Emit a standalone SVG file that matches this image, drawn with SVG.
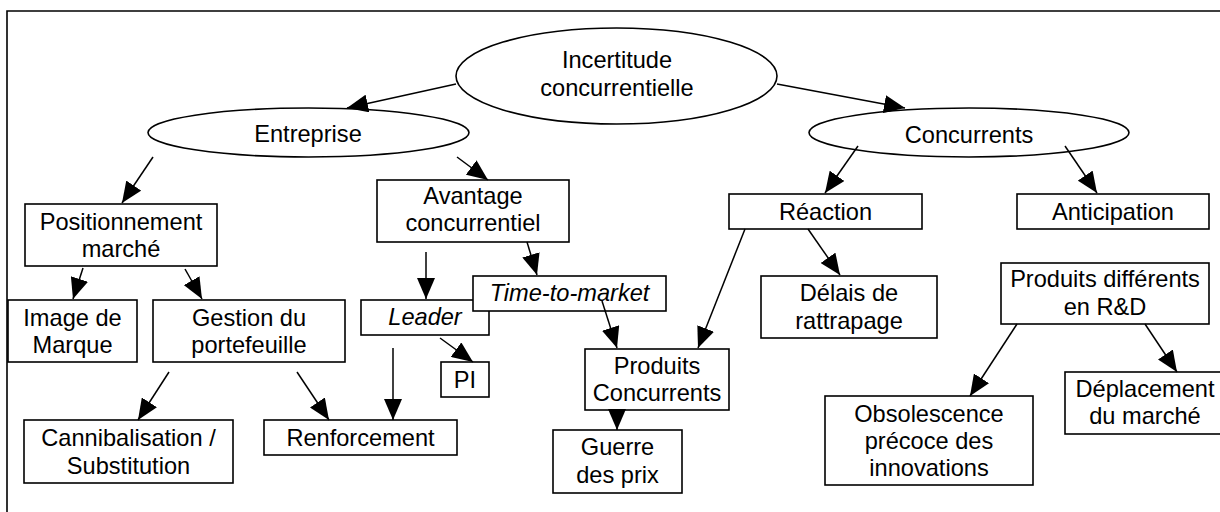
<svg xmlns="http://www.w3.org/2000/svg" width="1220" height="512" viewBox="0 0 1220 512">
<style>
  .n { fill: #fff; stroke: #000; stroke-width: 1.6; }
  .t { font-family: "Liberation Sans", Arial, sans-serif; font-size: 23.6px; fill: #000; text-anchor: middle; }
  .i { font-style: italic; }
  .c { stroke: #000; stroke-width: 1.5; fill: none; marker-end: url(#ah); }
  .frame { fill: none; stroke: #000; stroke-width: 1.6; }
</style>
<defs>
  <marker id="ah" markerUnits="userSpaceOnUse" markerWidth="21" markerHeight="18" viewBox="0 0 21 18" refX="21" refY="9" orient="auto">
    <path d="M0,0 L21,9 L0,18 z" fill="#000"/>
  </marker>
</defs>
<rect width="1220" height="512" fill="#fff"/>
<path class="frame" d="M7,512 V11 H1220"/>

<g id="incertitude">
  <ellipse class="n" cx="616.5" cy="76" rx="160.5" ry="48"/>
  <text class="t" x="617" y="68">Incertitude</text>
  <text class="t" x="617" y="96">concurrentielle</text>
</g>
<g id="entreprise">
  <ellipse class="n" cx="308.5" cy="132.5" rx="160.5" ry="24.5"/>
  <text class="t" x="308" y="142">Entreprise</text>
</g>
<g id="concurrents">
  <ellipse class="n" cx="969" cy="132.5" rx="160" ry="24.5"/>
  <text class="t" x="969" y="143">Concurrents</text>
</g>
<g id="positionnement">
  <rect class="n" x="25" y="204" width="192" height="62"/>
  <text class="t" x="121" y="230">Positionnement</text>
  <text class="t" x="121" y="257">marché</text>
</g>
<g id="avantage">
  <rect class="n" x="377" y="180" width="192" height="62"/>
  <text class="t" x="473" y="204">Avantage</text>
  <text class="t" x="473" y="231">concurrentiel</text>
</g>
<g id="reaction">
  <rect class="n" x="729" y="194" width="193" height="35"/>
  <text class="t" x="825.5" y="220">Réaction</text>
</g>
<g id="anticipation">
  <rect class="n" x="1017" y="194" width="192" height="35"/>
  <text class="t" x="1113" y="220">Anticipation</text>
</g>
<g id="image">
  <rect class="n" x="8" y="300" width="129" height="62"/>
  <text class="t" x="72.5" y="326">Image de</text>
  <text class="t" x="72.5" y="353">Marque</text>
</g>
<g id="gestion">
  <rect class="n" x="153" y="300" width="192" height="62"/>
  <text class="t" x="249" y="326">Gestion du</text>
  <text class="t" x="249" y="353">portefeuille</text>
</g>
<g id="leader">
  <rect class="n" x="361" y="300" width="128" height="35"/>
  <text class="t i" x="425" y="325">Leader</text>
</g>
<g id="ttm">
  <rect class="n" x="473" y="276" width="193" height="35"/>
  <text class="t i" x="569.5" y="301">Time-to-market</text>
</g>
<g id="pi">
  <rect class="n" x="441" y="362" width="48" height="35"/>
  <text class="t" x="465" y="388">PI</text>
</g>
<g id="delais">
  <rect class="n" x="761" y="276" width="176" height="62"/>
  <text class="t" x="849" y="301">Délais de</text>
  <text class="t" x="849" y="329">rattrapage</text>
</g>
<g id="produits-differents">
  <rect class="n" x="1001" y="263" width="208" height="61"/>
  <text class="t" x="1105" y="287">Produits différents</text>
  <text class="t" x="1105" y="315">en R&amp;D</text>
</g>
<g id="produits-concurrents">
  <rect class="n" x="585" y="349" width="144" height="61"/>
  <text class="t" x="657" y="374">Produits</text>
  <text class="t" x="657" y="401">Concurrents</text>
</g>
<g id="guerre">
  <rect class="n" x="553" y="430" width="129" height="63"/>
  <text class="t" x="617.5" y="455">Guerre</text>
  <text class="t" x="617.5" y="483">des prix</text>
</g>
<g id="renforcement">
  <rect class="n" x="264" y="420" width="193" height="35"/>
  <text class="t" x="360.5" y="446">Renforcement</text>
</g>
<g id="cannibalisation">
  <rect class="n" x="24" y="420" width="209" height="63"/>
  <text class="t" x="128.5" y="446">Cannibalisation /</text>
  <text class="t" x="128.5" y="474">Substitution</text>
</g>
<g id="obsolescence">
  <rect class="n" x="825" y="396" width="208" height="89"/>
  <text class="t" x="929" y="422">Obsolescence</text>
  <text class="t" x="929" y="449">précoce des</text>
  <text class="t" x="929" y="476">innovations</text>
</g>
<g id="deplacement">
  <rect class="n" x="1065" y="372" width="160" height="62"/>
  <text class="t" x="1145" y="397">Déplacement</text>
  <text class="t" x="1145" y="424">du marché</text>
</g>

<g id="connectors">
  <line class="c" x1="456" y1="84" x2="347" y2="108"/>
  <line class="c" x1="777" y1="84" x2="905" y2="108"/>
  <line class="c" x1="153" y1="157" x2="122" y2="203"/>
  <line class="c" x1="457" y1="157" x2="488" y2="180"/>
  <line class="c" x1="858" y1="146" x2="825" y2="193"/>
  <line class="c" x1="1065" y1="146" x2="1097" y2="193"/>
  <line class="c" x1="83" y1="268" x2="73" y2="299"/>
  <line class="c" x1="185" y1="269" x2="202" y2="299"/>
  <line class="c" x1="426" y1="252" x2="426" y2="299"/>
  <line class="c" x1="527" y1="242" x2="537" y2="275"/>
  <line class="c" x1="440" y1="338" x2="473" y2="362"/>
  <line class="c" x1="393" y1="348" x2="393" y2="420"/>
  <line class="c" x1="169" y1="372" x2="138" y2="420"/>
  <line class="c" x1="297" y1="372" x2="329" y2="420"/>
  <line class="c" x1="602" y1="301" x2="617" y2="348"/>
  <line class="c" x1="745" y1="229" x2="698" y2="348"/>
  <line class="c" x1="617" y1="410" x2="617" y2="430"/>
  <line class="c" x1="808" y1="229" x2="840" y2="275"/>
  <line class="c" x1="1017" y1="324" x2="970" y2="396"/>
  <line class="c" x1="1145" y1="324" x2="1177" y2="372"/>
</g>
</svg>
